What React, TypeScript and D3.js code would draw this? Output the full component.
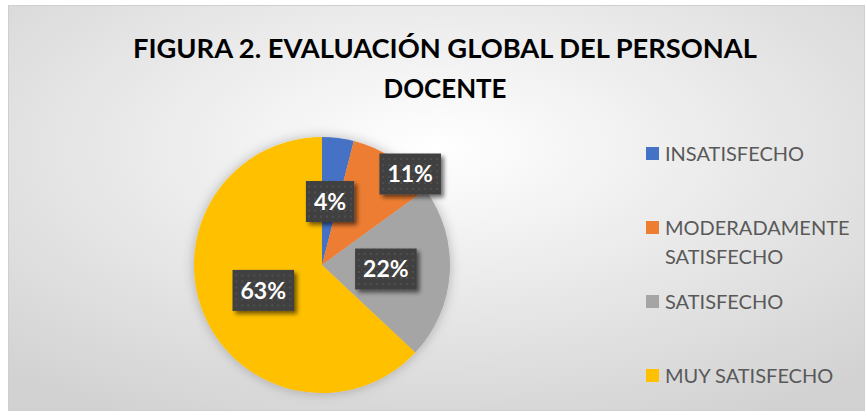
import React, { useEffect, useRef } from 'react'
import * as d3 from 'd3'

const categories = ['INSATISFECHO', 'MODERADAMENTE SATISFECHO', 'SATISFECHO', 'MUY SATISFECHO']
const values = [4, 11, 22, 63]
const colors = ['#4472C4', '#ED7D31', '#A5A5A5', '#FFC000']
const titleLines = ['FIGURA 2. EVALUACIÓN GLOBAL DEL PERSONAL', 'DOCENTE']

const W = 867
const H = 418
const FONT = "Lato, 'Open Sans', sans-serif"

const App = () => {
  const svgRef = useRef(null)

  useEffect(() => {
    const svg = d3.select(svgRef.current)
    svg.selectAll('*').remove()

    const defs = svg.append('defs')
    const grad = defs.append('radialGradient')
      .attr('id', 'bg')
      .attr('cx', '50%').attr('cy', '35%').attr('r', '75%')
    grad.append('stop').attr('offset', '0%').attr('stop-color', '#ffffff')
    grad.append('stop').attr('offset', '100%').attr('stop-color', '#d2d2d2')

    const pat = defs.append('pattern')
      .attr('id', 'dots')
      .attr('width', 6).attr('height', 6)
      .attr('patternUnits', 'userSpaceOnUse')
    pat.append('rect').attr('width', 6).attr('height', 6).attr('fill', '#404040')
    pat.append('rect').attr('x', 2).attr('y', 2).attr('width', 2).attr('height', 2).attr('fill', '#4f4f4f')

    const shadow = defs.append('filter').attr('id', 'shadow')
      .attr('x', '-30%').attr('y', '-30%').attr('width', '160%').attr('height', '160%')
    shadow.append('feDropShadow')
      .attr('dx', 3).attr('dy', 3).attr('stdDeviation', 2)
      .attr('flood-color', '#000').attr('flood-opacity', 0.55)

    const pieShadow = defs.append('filter').attr('id', 'pieshadow')
      .attr('x', '-20%').attr('y', '-20%').attr('width', '140%').attr('height', '140%')
    pieShadow.append('feDropShadow')
      .attr('dx', 0).attr('dy', 0).attr('stdDeviation', 6)
      .attr('flood-color', '#000').attr('flood-opacity', 0.25)

    // chart area
    svg.append('rect')
      .attr('x', 8.5).attr('y', 5.5)
      .attr('width', 856).attr('height', 405)
      .attr('fill', 'url(#bg)')
      .attr('stroke', '#cfcfcf')

    // title
    const titleWidths = [624, 123]
    svg.selectAll('text.title')
      .data(titleLines)
      .enter()
      .append('text')
      .attr('class', 'title')
      .attr('x', 445)
      .attr('y', (d, i) => 58 + i * 40)
      .attr('text-anchor', 'middle')
      .attr('font-family', FONT)
      .attr('font-weight', 700)
      .attr('font-size', 27)
      .attr('fill', '#000')
      .attr('textLength', (d, i) => titleWidths[i])
      .attr('lengthAdjust', 'spacingAndGlyphs')
      .text(d => d)

    // pie
    const cx = 322
    const cy = 265
    const R = 128
    const pie = d3.pie().sort(null).value(d => d)
    const arcs = pie(values)
    const arc = d3.arc().innerRadius(0).outerRadius(R)

    const g = svg.append('g').attr('transform', `translate(${cx},${cy})`)
    g.append('g')
      .attr('filter', 'url(#pieshadow)')
      .selectAll('path')
      .data(arcs)
      .enter()
      .append('path')
      .attr('d', arc)
      .attr('fill', (d, i) => colors[i])

    // data labels (best fit: narrow slices pushed towards the rim)
    const labelPos = (d) => {
      const span = d.endAngle - d.startAngle
      let a = (d.startAngle + d.endAngle) / 2
      let r = R * 0.5
      if (span > 0.3 && span < 0.8) {
        a = (a + d.endAngle) / 2
        r = R * 0.99
      }
      return [r * Math.sin(a), -r * Math.cos(a)]
    }

    const labels = g.selectAll('g.lbl')
      .data(arcs)
      .enter()
      .append('g')
      .attr('class', 'lbl')
      .attr('transform', d => `translate(${labelPos(d)})`)

    const rects = labels.append('rect')
      .attr('fill', 'url(#dots)')
      .attr('filter', 'url(#shadow)')

    const txt = labels.append('text')
      .attr('text-anchor', 'middle')
      .attr('dy', '0.36em')
      .attr('font-family', FONT)
      .attr('font-weight', 700)
      .attr('font-size', 23)
      .attr('fill', '#fff')
      .text(d => `${d.data}%`)

    txt.each(function (d, i) {
      const w = this.getComputedTextLength()
      const bw = w + 16
      d3.select(rects.nodes()[i])
        .attr('x', -bw / 2).attr('y', -20.5)
        .attr('width', bw).attr('height', 41)
    })

    // legend
    const legendX = 646
    const legendTop = 139
    const rowStep = 74
    const lineH = 29
    const legend = svg.append('g')
    categories.forEach((c, i) => {
      const words = c.split(' ')
      const lines = c.length > 16 ? words : [c]
      const top = legendTop + i * rowStep
      legend.append('rect')
        .attr('x', legendX).attr('y', top + lineH / 2 - 6.5)
        .attr('width', 13).attr('height', 13)
        .attr('fill', colors[i])
      lines.forEach((l, j) => {
        legend.append('text')
          .attr('x', legendX + 19)
          .attr('y', top + lineH / 2 + j * lineH)
          .attr('dy', '0.36em')
          .attr('font-family', FONT)
          .attr('font-size', 20)
          .attr('fill', '#595959')
          .text(l)
      })
    })
  }, [])

  return (
    <svg
      ref={svgRef}
      width={W}
      height={H}
      style={{ position: 'absolute', left: 0, top: 0, background: '#fff' }}
    />
  )
}

export default App
